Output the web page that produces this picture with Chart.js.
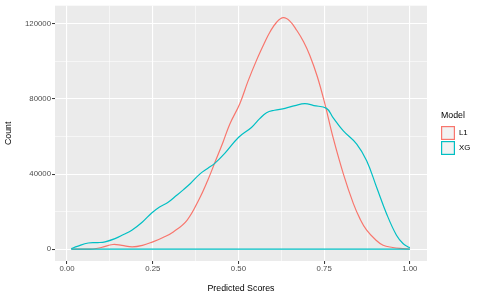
<!DOCTYPE html>
<html>
<head>
<meta charset="utf-8">
<script src="https://cdn.jsdelivr.net/npm/chart.js@4"></script>
<style>
  html, body { margin: 0; padding: 0; background: #ffffff; }
  #wrap { width: 479px; height: 299px; position: relative; }
</style>
</head>
<body>
<div id="wrap"><canvas id="densityChart"></canvas></div>
<script>
// data
const l1Scores = [0.0125, 0.05, 0.076, 0.10, 0.134, 0.16, 0.19, 0.22, 0.25, 0.28, 0.31, 0.35, 0.385, 0.41, 0.431, 0.455, 0.475, 0.504, 0.528, 0.553, 0.575, 0.592, 0.612, 0.631, 0.65, 0.67, 0.69, 0.708, 0.73, 0.752, 0.776, 0.806, 0.835, 0.855, 0.874, 0.90, 0.922, 0.95, 0.971, 1.0];
const l1Counts = [0, 0, 100, 900, 2500, 2000, 1200, 2000, 3900, 6200, 9200, 15400, 26500, 36500, 46000, 57000, 66700, 77500, 89500, 100700, 109500, 115700, 121000, 123300, 121500, 116600, 110500, 103300, 92000, 77500, 59500, 40100, 24400, 16000, 10100, 5000, 2100, 900, 400, 100];

const xgScores = [0.0125, 0.03, 0.062, 0.09, 0.111, 0.14, 0.165, 0.189, 0.22, 0.247, 0.27, 0.295, 0.32, 0.339, 0.36, 0.388, 0.41, 0.431, 0.46, 0.50, 0.538, 0.562, 0.582, 0.605, 0.636, 0.665, 0.694, 0.72, 0.757, 0.776, 0.806, 0.845, 0.874, 0.903, 0.932, 0.961, 0.98, 0.995, 1.0];
const xgCounts = [300, 1500, 3300, 3500, 3900, 5600, 7800, 10100, 14500, 19300, 22500, 25000, 28700, 31600, 35000, 40100, 43000, 45700, 51000, 59500, 64800, 69500, 72700, 74000, 75000, 76500, 77500, 76500, 75000, 70100, 63000, 56000, 47100, 33000, 18900, 7400, 3000, 1200, 800];

const modelNames = ["L1", "XG"];
const modelColors = ["#F8766D", "#00BFC4"];

const xMajor = [0, 0.25, 0.5, 0.75, 1];
const xMinor = [0.125, 0.375, 0.625, 0.875];
const yMajor = [0, 40000, 80000, 120000];
const yMinor = [20000, 60000, 100000];

const FONT = "'Liberation Sans', Arial, Helvetica, sans-serif";

const toPoints = (xs, ys) => xs.map((x, i) => ({ x: x, y: ys[i] }));

const buildTicks = (major, minor) =>
  major.concat(minor).sort((a, b) => a - b).map((v) => ({ value: v }));

// grey ggplot panel
const panelBg = {
  id: "panelBg",
  beforeDraw: (chart) => {
    const { ctx, chartArea: a } = chart;
    ctx.save();
    ctx.fillStyle = "#EBEBEB";
    ctx.fillRect(a.left, a.top, a.right - a.left, a.bottom - a.top);
    ctx.restore();
  },
};

// legend drawn by hand, ggplot style
const ggLegend = {
  id: "ggLegend",
  afterDraw: (chart) => {
    const ctx = chart.ctx;
    ctx.save();
    ctx.fillStyle = "#000000";
    ctx.textBaseline = "middle";
    ctx.textAlign = "left";
    ctx.font = "8.8px " + FONT;
    ctx.fillText("Model", 441, 116);
    ctx.font = "7.8px " + FONT;
    modelNames.forEach((name, i) => {
      const y = 126 + i * 15;
      ctx.fillStyle = "#F2F2F2";
      ctx.fillRect(441, y, 14, 14);
      ctx.strokeStyle = modelColors[i];
      ctx.lineWidth = 1.2;
      ctx.strokeRect(441.6, y + 0.6, 12.8, 12.8);
      ctx.fillStyle = "#000000";
      ctx.fillText(name, 459, y + 7);
    });
    ctx.restore();
  },
};

const ctx = document.getElementById("densityChart").getContext("2d");
const myChart = new Chart(ctx, {
  type: "line",
  plugins: [panelBg, ggLegend],
  data: {
    datasets: [
      {
        label: "baseline",
        data: toPoints([l1Scores[0], 1.0], [0, 0]),
        borderColor: modelColors[1],
        borderWidth: 1.2,
        pointRadius: 0,
        tension: 0,
        order: 0,
      },
      {
        label: modelNames[1],
        data: toPoints(xgScores, xgCounts),
        borderColor: modelColors[1],
        borderWidth: 1.2,
        pointRadius: 0,
        tension: 0.4,
        order: 1,
      },
      {
        label: modelNames[0],
        data: toPoints(l1Scores, l1Counts),
        borderColor: modelColors[0],
        borderWidth: 1.2,
        pointRadius: 0,
        tension: 0.4,
        order: 2,
      },
    ],
  },
  options: {
    responsive: true,
    maintainAspectRatio: false,
    animation: false,
    events: [],
    layout: { padding: { top: 4, right: 52, left: 0, bottom: 0 } },
    plugins: {
      legend: { display: false },
      tooltip: { enabled: false },
    },
    scales: {
      x: {
        type: "linear",
        min: -0.035,
        max: 1.05,
        afterBuildTicks: (scale) => { scale.ticks = buildTicks(xMajor, xMinor); },
        afterFit: (scale) => { scale.height = 38; },
        border: { display: false },
        grid: {
          color: "#FFFFFF",
          lineWidth: (c) => (xMajor.includes(c.tick.value) ? 1.1 : 0.55),
          drawTicks: true,
          tickLength: 3,
          tickColor: (c) => (xMajor.includes(c.tick.value) ? "#333333" : "rgba(0,0,0,0)"),
          tickWidth: 1,
        },
        ticks: {
          autoSkip: false,
          maxRotation: 0,
          padding: 0,
          color: "#4D4D4D",
          font: { family: FONT, size: 7.8 },
          callback: (v) => (xMajor.includes(v) ? v.toFixed(2) : ""),
        },
        title: {
          display: true,
          text: "Predicted Scores",
          color: "#000000",
          font: { family: FONT, size: 8.8 },
          padding: { top: 0, bottom: 5 },
        },
      },
      y: {
        type: "linear",
        min: -6300,
        max: 129700,
        afterBuildTicks: (scale) => { scale.ticks = buildTicks(yMajor, yMinor); },
        afterFit: (scale) => { scale.width = 55; },
        border: { display: false },
        grid: {
          color: "#FFFFFF",
          lineWidth: (c) => (yMajor.includes(c.tick.value) ? 1.1 : 0.55),
          drawTicks: true,
          tickLength: 3,
          tickColor: (c) => (yMajor.includes(c.tick.value) ? "#333333" : "rgba(0,0,0,0)"),
          tickWidth: 1,
        },
        ticks: {
          autoSkip: false,
          padding: 1,
          color: "#4D4D4D",
          font: { family: FONT, size: 7.8 },
          callback: (v) => (yMajor.includes(v) ? String(v) : ""),
        },
        title: {
          display: true,
          text: "Count",
          color: "#000000",
          font: { family: FONT, size: 8.8 },
          padding: { top: 3, bottom: 0 },
        },
      },
    },
  },
});
</script>
</body>
</html>
